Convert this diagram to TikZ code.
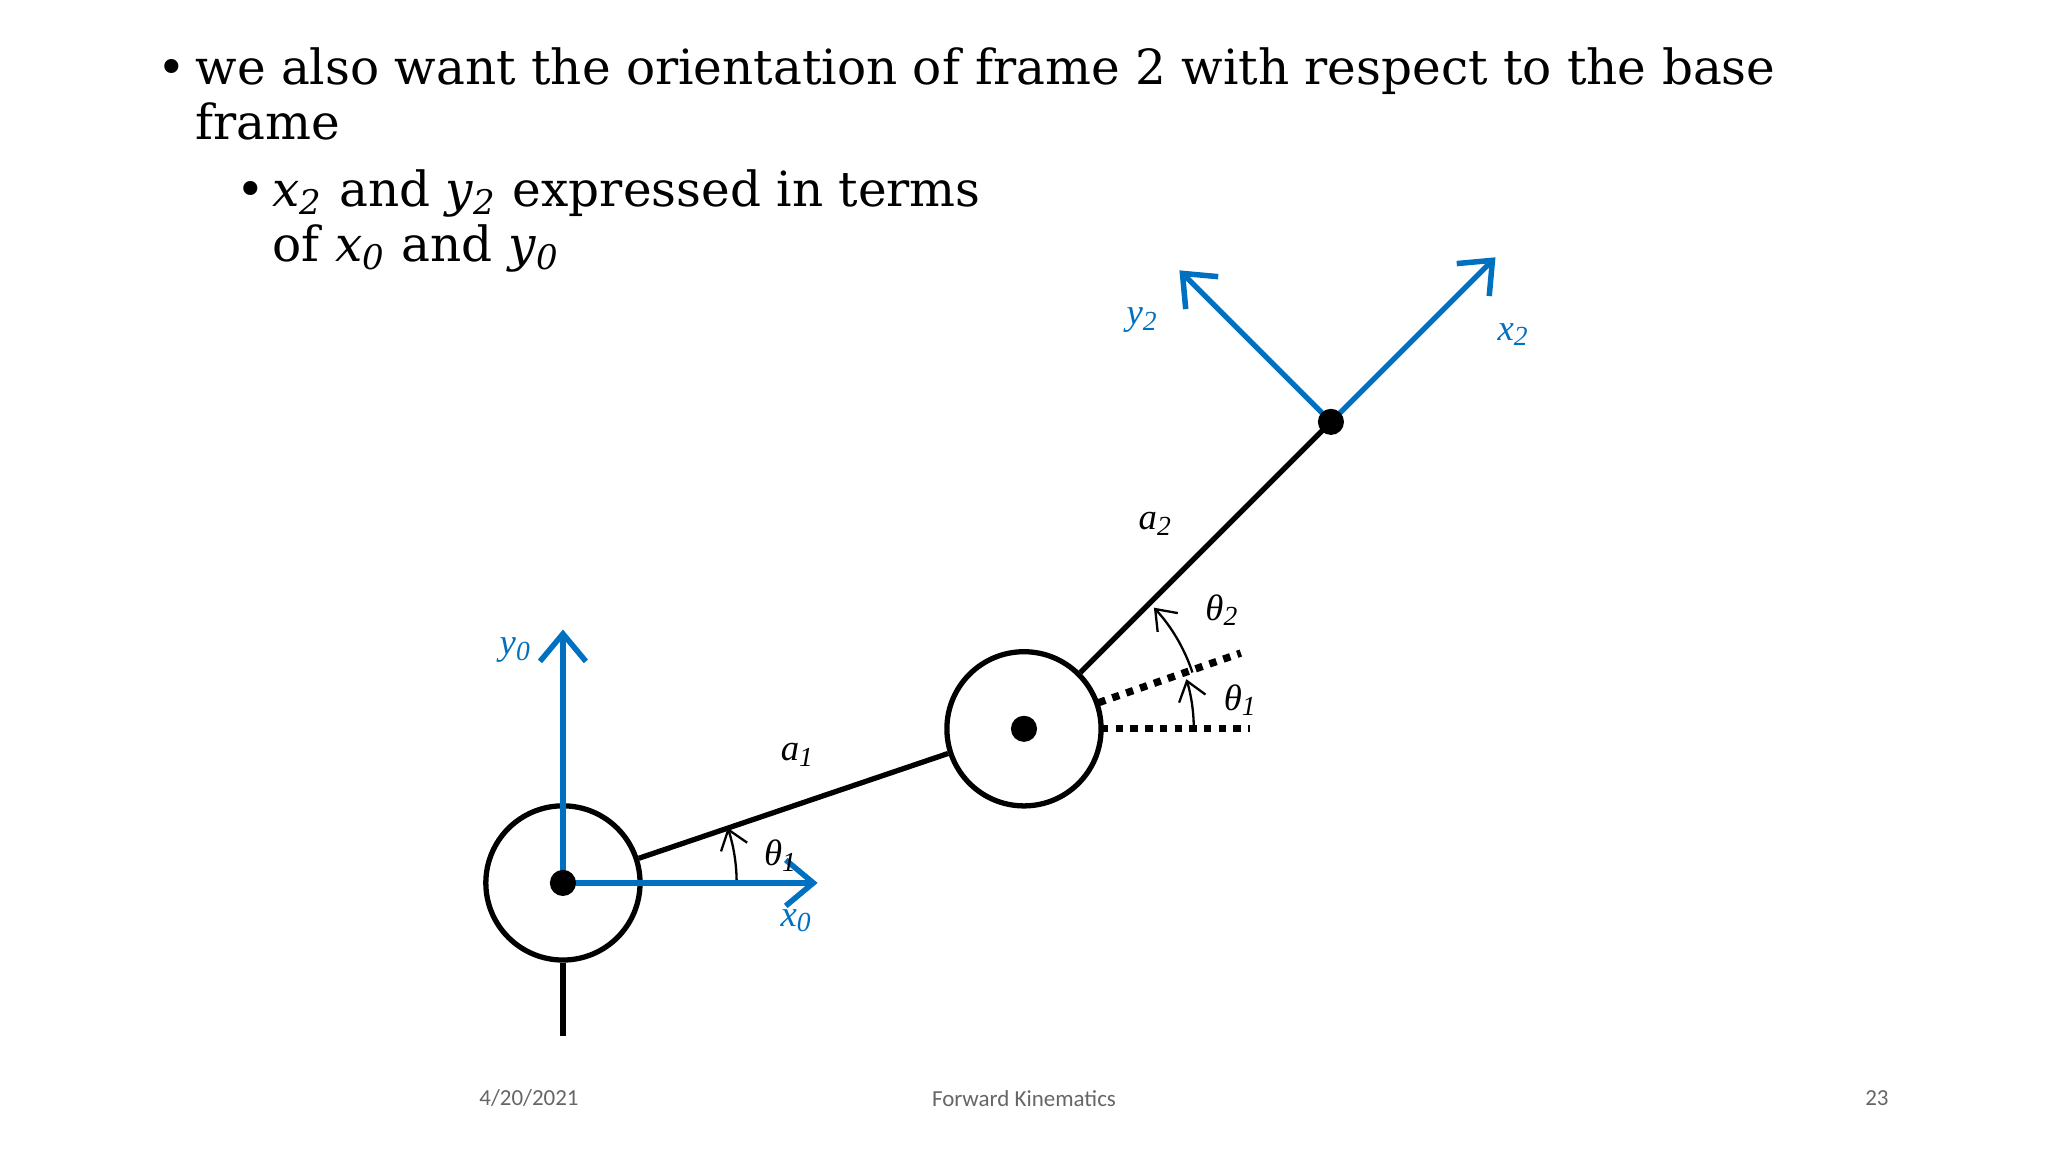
\documentclass[tikz,border=0pt]{standalone}
\usepackage{fontspec}
\setmainfont{DejaVu Serif}
\newfontfamily\lsf{Liberation Serif}
\newfontfamily\csf{Carlito}
\usetikzlibrary{arrows.meta}
\definecolor{fblue}{RGB}{0,112,192}
\newcommand{\iv}[2]{\textit{#1}\textsubscript{\textit{#2}}}
\begin{document}
\begin{tikzpicture}[x=0.01cm,y=-0.01cm,
  link/.style={line width=1.15pt},
  ax/.style={line width=1.15pt,fblue,-{Straight Barb[length=6pt,width=10pt,line width=1.2pt]}},
  ang/.style={line width=0.5pt,-{Straight Barb[length=4pt,width=6pt]}},
  dotl/.style={line width=1.6pt,dash pattern=on 1.6pt off 1.6pt},
  lab/.style={font=\lsf\itshape\fontsize{8}{8}\selectfont},
  blab/.style={lab,text=fblue},
  body/.style={anchor=base west,inner sep=0,font=\fontsize{10.55}{12}\selectfont},
  foot/.style={font=\csf\fontsize{5}{6}\selectfont,text=black!60}]
\useasboundingbox (0,0) rectangle (1568,882);
% text
\node[body] (b1) at (120,65) {•};
\node[body] (t1) at (149,65) {we also want the orientation of frame 2 with respect to the base};
\node[body] (t2) at (149,107) {frame};
\node[body] (b2) at (180,158) {•};
\node[body] (t3) at (208,158) {\iv{x}{2} and \iv{y}{2} expressed in terms};
\node[body] (t4) at (208,200) {of \iv{x}{0} and \iv{y}{0}};
% joints
\coordinate (O) at (431,676);
\coordinate (J) at (784,558);
\coordinate (E) at (1019,323);
\node[circle,draw,line width=1.15pt,minimum size=1.18cm,inner sep=0] (c1) at (O) {};
\node[circle,draw,line width=1.15pt,minimum size=1.18cm,inner sep=0] (c2) at (J) {};
\coordinate (bot) at (431,793);
\draw[link] (c1.south) -- (bot);
\draw[link] (c1.18.5) -- (c2.198.5);
\draw[link] (c2.45) -- (E);
% dotted
\coordinate (h1) at (843,558); \coordinate (h2) at (957,558);
\coordinate (d1) at (841,538); \coordinate (d2) at (950,500);
\draw[dotl] (h1) -- (h2);
\draw[dotl] (d1) -- (d2);
% angles
\draw[ang] ([shift={(0:133)}]O) arc[start angle=0,end angle=-18.5,radius=133];
\draw[ang] ([shift={(-18.5:136)}]J) arc[start angle=-18.5,end angle=-43,radius=136];
\draw[ang] ([shift={(0:130)}]J) arc[start angle=0,end angle=-17,radius=130];
% blue frames
\coordinate (x0) at (626,676); \coordinate (y0) at (431,482);
\coordinate (x2) at (1145,197); \coordinate (y2) at (903,207);
\draw[ax] (O) -- (x0);
\draw[ax] (O) -- (y0);
\draw[ax] (E) -- (x2);
\draw[ax] (E) -- (y2);
\fill (O) circle (10);
\fill (J) circle (10);
\fill (E) circle (10);
% labels
\node[blab] (ly0) at (395,498) {y\textsubscript{0}};
\node[blab] (lx0) at (610,705) {x\textsubscript{0}};
\node[blab] (ly2) at (875,245) {y\textsubscript{2}};
\node[blab] (lx2) at (1159,256) {x\textsubscript{2}};
\node[lab] (la1) at (611,578) {a\textsubscript{1}};
\node[lab] (la2) at (885,401) {a\textsubscript{2}};
\node[lab] (lt1) at (598,655) {θ\textsubscript{1}};
\node[lab] (lt2) at (936,467) {θ\textsubscript{2}};
\node[lab] (lt1b) at (950,536) {θ\textsubscript{1}};
% footer
\node[foot] (f1) at (405,841) {4/20/2021};
\node[foot] (f2) at (784,841) {Forward Kinematics};
\node[foot] (f3) at (1437,841) {23};
\end{tikzpicture}
\end{document}
